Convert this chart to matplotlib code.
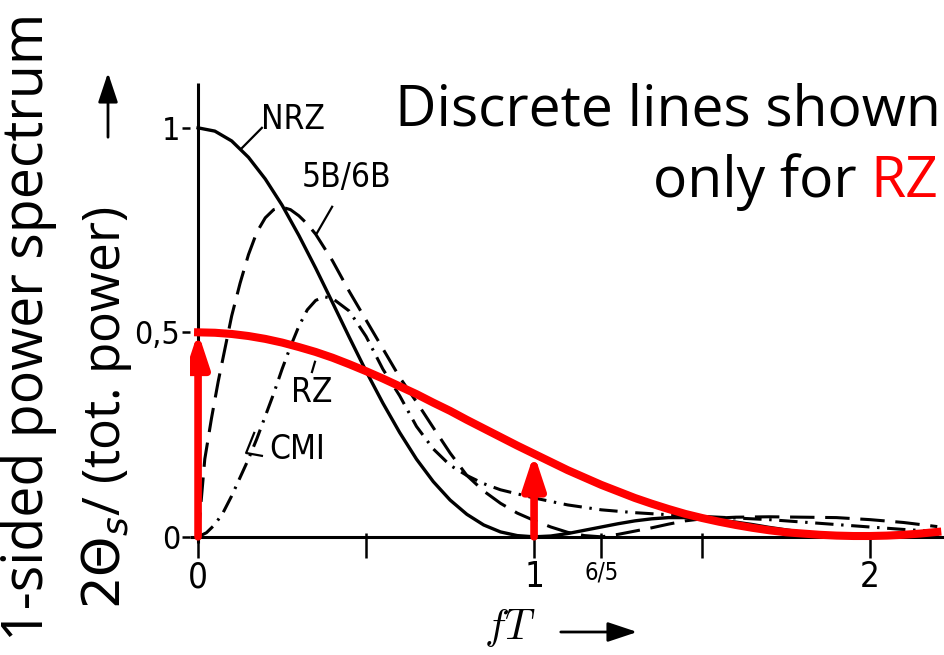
import matplotlib.pyplot as plt
from matplotlib.patches import FancyArrowPatch

# spectra vs normalised frequency fT
nrz_x = [0, 0.05, 0.1, 0.15, 0.2, 0.25, 0.3, 0.35, 0.4, 0.45, 0.5, 0.55, 0.6, 0.65, 0.7,
         0.75, 0.8, 0.85, 0.9, 0.95, 1.0, 1.05, 1.1, 1.15, 1.2, 1.25, 1.3, 1.35, 1.4, 1.45,
         1.5, 1.55, 1.6, 1.65, 1.7, 1.75, 1.8, 1.85, 1.9, 1.95, 2.0, 2.05, 2.1, 2.15, 2.2]
nrz_y = [1.0, 0.992, 0.968, 0.928, 0.875, 0.811, 0.737, 0.657, 0.573, 0.488, 0.405, 0.327,
         0.255, 0.190, 0.135, 0.090, 0.055, 0.029, 0.012, 0.003, 0.0, 0.002, 0.008, 0.016,
         0.024, 0.032, 0.039, 0.044, 0.047, 0.047, 0.045, 0.041, 0.036, 0.030, 0.023,
         0.017, 0.011, 0.006, 0.003, 0.001, 0.0, 0.001, 0.002, 0.005, 0.007]

rz_x = [0, 0.05, 0.1, 0.15, 0.2, 0.25, 0.3, 0.35, 0.4, 0.45, 0.5, 0.55, 0.6, 0.65, 0.7,
        0.75, 0.8, 0.85, 0.9, 0.95, 1.0, 1.05, 1.1, 1.15, 1.2, 1.25, 1.3, 1.35, 1.4, 1.45,
        1.5, 1.55, 1.6, 1.65, 1.7, 1.75, 1.8, 1.85, 1.9, 1.95, 2.0, 2.05, 2.1, 2.15, 2.2]
rz_y = [0.500, 0.499, 0.496, 0.491, 0.484, 0.475, 0.464, 0.452, 0.438, 0.422, 0.405,
        0.387, 0.368, 0.349, 0.328, 0.308, 0.286, 0.265, 0.244, 0.223, 0.203, 0.183,
        0.163, 0.145, 0.127, 0.111, 0.095, 0.081, 0.068, 0.056, 0.046, 0.037, 0.029,
        0.022, 0.016, 0.011, 0.008, 0.005, 0.003, 0.002, 0.002, 0.003, 0.005, 0.008, 0.012]

b5b6_x = [0, 0.02, 0.04, 0.06, 0.08, 0.1, 0.125, 0.15, 0.175, 0.2, 0.225, 0.25, 0.275,
          0.3, 0.325, 0.35, 0.4, 0.45, 0.5, 0.55, 0.6, 0.65, 0.7, 0.75, 0.8, 0.85, 0.9,
          0.95, 1.0, 1.05, 1.1, 1.15, 1.2, 1.25, 1.3, 1.35, 1.4, 1.45, 1.5, 1.6, 1.7,
          1.8, 1.9, 2.0, 2.1, 2.2]
b5b6_y = [0.0, 0.19, 0.29, 0.38, 0.46, 0.54, 0.62, 0.69, 0.745, 0.78, 0.80, 0.806, 0.80,
          0.785, 0.765, 0.74, 0.675, 0.60, 0.53, 0.46, 0.39, 0.33, 0.267, 0.205, 0.15,
          0.112, 0.082, 0.058, 0.040, 0.024, 0.011, 0.003, 0.0, 0.006, 0.014, 0.022,
          0.031, 0.039, 0.044, 0.048, 0.049, 0.048, 0.047, 0.042, 0.035, 0.025]

cmi_x = [0, 0.025, 0.05, 0.075, 0.1, 0.125, 0.15, 0.175, 0.2, 0.225, 0.25, 0.275, 0.3,
         0.325, 0.35, 0.375, 0.4, 0.45, 0.5, 0.55, 0.6, 0.65, 0.7, 0.75, 0.8, 0.85, 0.9,
         0.95, 1.0, 1.1, 1.2, 1.3, 1.4, 1.5, 1.6, 1.7, 1.8, 1.9, 2.0, 2.1, 2.2]
cmi_y = [0.0, 0.01, 0.03, 0.06, 0.10, 0.145, 0.19, 0.24, 0.295, 0.35, 0.41, 0.465, 0.515,
         0.555, 0.578, 0.587, 0.583, 0.552, 0.49, 0.41, 0.345, 0.27, 0.215, 0.175, 0.15,
         0.13, 0.115, 0.105, 0.095, 0.078, 0.066, 0.059, 0.054, 0.050, 0.046, 0.042,
         0.036, 0.030, 0.024, 0.018, 0.013]

# discrete spectral lines of RZ
line_pos = [0, 1]
line_height = [0.5, 0.203]

xtick_pos = [0, 0.5, 1, 1.2, 1.5, 2]
xtick_lab = ['0', '', '1', '6/5', '', '2']
ytick_pos = [0, 0.5, 1]
ytick_lab = ['0', '0,5', '1']

narrow = dict(family=['Liberation Sans Narrow', 'DejaVu Sans'], fontstretch='condensed')

fig = plt.figure(figsize=(9.44, 6.55), dpi=100)
ax = fig.add_axes([190 / 944, 110 / 655, 754 / 944, 465 / 655])
ax.set_xlim(-0.024, 2.22)
ax.set_ylim(-0.02, 1.117)
for s in ax.spines.values():
    s.set_visible(False)

ax.plot([-0.024, 2.22], [0, 0], color='black', lw=2.2, solid_capstyle='butt', zorder=2)
ax.plot([0, 0], [-0.015, 1.11], color='black', lw=2.2, solid_capstyle='butt', zorder=2)

ax.plot(nrz_x, nrz_y, color='black', lw=2.4, zorder=3)
ax.plot(b5b6_x, b5b6_y, color='black', lw=2.2, dashes=(8, 3.5), zorder=3)
ax.plot(cmi_x, cmi_y, color='black', lw=2.2, dashes=(6, 2.5, 0.8, 2.5), zorder=3)
ax.plot(rz_x, rz_y, color='#ff0000', lw=5.8, zorder=4)

for xp, h in zip(line_pos, line_height):
    arr = FancyArrowPatch((xp, 0), (xp, h), arrowstyle='-|>,head_length=1.0,head_width=0.33',
                          mutation_scale=20, color='#ff0000', lw=5.5, shrinkA=0, shrinkB=0,
                          zorder=5)
    ax.add_patch(arr)

ax.set_xticks(xtick_pos)
ax.set_xticklabels(xtick_lab, **narrow)
ax.set_yticks(ytick_pos)
ax.set_yticklabels(ytick_lab, **narrow)
ax.tick_params(axis='x', direction='inout', length=18, width=1.8, labelsize=25, pad=2)
ax.tick_params(axis='y', direction='out', length=6, width=1.8, labelsize=23, pad=1)
ax.get_xticklabels()[3].set_fontsize(17)

# curve names with leader lines
ax.text(0.283, 1.02, 'NRZ', fontsize=24, ha='center', va='center', **narrow)
ax.plot([0.19, 0.131], [1.0, 0.951], color='black', lw=1.6)
ax.text(0.443, 0.878, '5B/6B', fontsize=24, ha='center', va='center', **narrow)
ax.plot([0.399, 0.354], [0.807, 0.743], color='black', lw=1.6)
ax.text(0.339, 0.352, 'RZ', fontsize=24, ha='center', va='center', **narrow)
ax.plot([0.348, 0.339], [0.428, 0.403], color='black', lw=1.6)
ax.text(0.294, 0.213, 'CMI', fontsize=24, ha='center', va='center', **narrow)
ax.plot([0.167, 0.143, 0.19], [0.254, 0.205, 0.198], color='black', lw=1.6)

# axis titles
fig.text(28 / 944, 1 - 327 / 655, '1-sided power spectrum', rotation=90, ha='center',
         va='center', fontsize=40, family='Open Sans')
fig.text(106 / 944, 1 - 408 / 655, r'$2\Theta_s$/ (tot. power)', rotation=90, ha='center',
         va='center', fontsize=37, family='Open Sans')
fig.add_artist(FancyArrowPatch((108, 655 - 140), (108, 655 - 70), transform=None,
                               arrowstyle='-|>,head_length=0.9,head_width=0.3',
                               mutation_scale=20, color='black', lw=2))
fig.text(510 / 944, 1 - 628 / 655, r'$fT$', ha='center', va='center', fontsize=30,
         math_fontfamily='cm')
fig.add_artist(FancyArrowPatch((558, 655 - 632), (640, 655 - 632), transform=None,
                               arrowstyle='-|>,head_length=0.9,head_width=0.3',
                               mutation_scale=20, color='black', lw=2))

fig.text(941 / 944, 1 - 125 / 655, 'Discrete lines shown', ha='right', va='baseline',
         fontsize=41, family='Open Sans')
rz = fig.text(938 / 944, 1 - 197 / 655, 'RZ', ha='right', va='baseline', fontsize=41,
              family='Open Sans', color='#ff0000')
fig.canvas.draw()
x0 = rz.get_window_extent().x0
fig.text(x0 / 944 - 0.014, 1 - 197 / 655, 'only for', ha='right', va='baseline',
         fontsize=41, family='Open Sans')

fig.savefig('out.png', dpi=100)
